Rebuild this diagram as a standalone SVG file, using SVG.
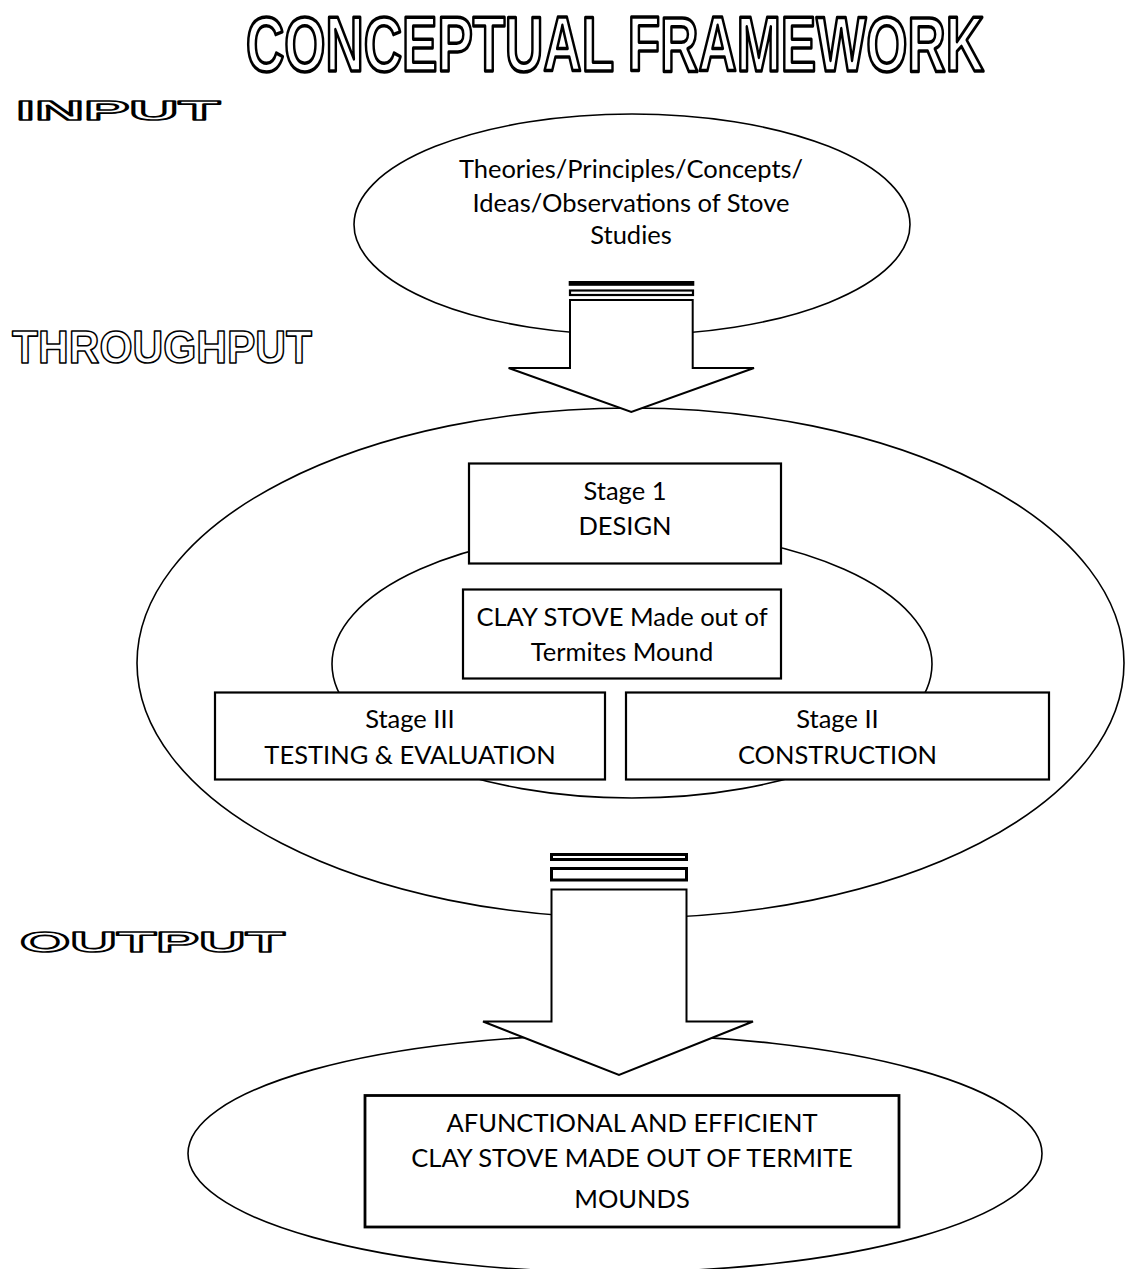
<svg xmlns="http://www.w3.org/2000/svg" width="1125" height="1269" viewBox="0 0 1125 1269">
<style>
.bg{fill:#fff}
.ell{fill:#fff;stroke:#000;stroke-width:1.6}
.box{fill:#fff;stroke:#000;stroke-width:2.2}
.arrow{fill:#fff;stroke:#000;stroke-width:2}
.bar{fill:#fff;stroke:#000;stroke-width:2.6}
.t{font-family:Lato,"Open Sans","Liberation Sans",sans-serif;font-size:25.5px;fill:#000;text-anchor:middle}
.hd{font-family:"Liberation Sans",Arial,sans-serif;font-weight:bold;fill:#fff;stroke:#000;stroke-width:1.6;stroke-linejoin:round}
.title{font-size:50px;stroke-width:3;text-anchor:middle}
</style>
<rect class="bg" x="0" y="0" width="1125" height="1269"/>

<g id="headings">
<text class="hd title" transform="scale(1,1.54)" x="615" y="45.8" textLength="738" lengthAdjust="spacingAndGlyphs" vector-effect="non-scaling-stroke">CONCEPTUAL FRAMEWORK</text>
<text class="hd" x="16" y="120" font-size="27" textLength="204" lengthAdjust="spacingAndGlyphs">INPUT</text>
<text class="hd" x="12" y="362.5" font-size="45.5" textLength="300" lengthAdjust="spacingAndGlyphs">THROUGHPUT</text>
<text class="hd" x="20" y="951.5" font-size="29.3" textLength="265" lengthAdjust="spacingAndGlyphs">OUTPUT</text>
</g>

<g id="input">
<ellipse class="ell" cx="632" cy="224.5" rx="278" ry="110.5"/>
<text class="t" x="631" y="178">Theories/Principles/Concepts/</text>
<text class="t" x="631" y="211.5">Ideas/Observations of Stove</text>
<text class="t" x="631" y="243.5">Studies</text>
</g>

<g id="throughput">
<ellipse class="ell" cx="630.5" cy="663" rx="493.5" ry="255"/>
<ellipse class="ell" cx="632" cy="664" rx="300" ry="134"/>
</g>

<g id="stage1">
<rect class="box" x="469" y="463.5" width="312" height="100"/>
<text class="t" x="625" y="500">Stage 1</text>
<text class="t" x="625" y="535">DESIGN</text>
</g>

<g id="clay-stove">
<rect class="box" x="463" y="589.5" width="318" height="89"/>
<text class="t" x="622" y="626">CLAY STOVE Made out of</text>
<text class="t" x="622" y="661">Termites Mound</text>
</g>

<g id="stage3">
<rect class="box" x="215" y="692.5" width="390" height="87"/>
<text class="t" x="410" y="728">Stage III</text>
<text class="t" x="410" y="764">TESTING &amp; EVALUATION</text>
</g>

<g id="stage2">
<rect class="box" x="626" y="692.5" width="423" height="87"/>
<text class="t" x="837.5" y="728">Stage II</text>
<text class="t" x="837.5" y="764">CONSTRUCTION</text>
</g>

<g id="output">
<ellipse class="ell" cx="615" cy="1153.5" rx="427" ry="118.6"/>
<rect class="box" x="365" y="1095.5" width="534" height="131.5" style="stroke-width:2.8"/>
<text class="t" x="632" y="1131.5">AFUNCTIONAL AND EFFICIENT</text>
<text class="t" x="632" y="1167">CLAY STOVE MADE OUT OF TERMITE</text>
<text class="t" x="632" y="1208">MOUNDS</text>
</g>

<g id="connectors">
<g id="arrow-input-throughput">
<rect class="bar" x="570" y="282.3" width="123" height="2.2"/>
<rect class="bar" x="570" y="290.5" width="123" height="4.5" style="stroke-width:2.2"/>
<path class="arrow" d="M570,300 H692.7 V368 H754 L631.3,412 L508.6,368 H570 Z"/>
</g>
<g id="arrow-throughput-output">
<rect class="bar" x="551.5" y="854.5" width="135" height="5" style="stroke-width:3"/>
<rect class="bar" x="551.5" y="868.5" width="135" height="11.5" style="stroke-width:3"/>
<path class="arrow" d="M551.5,889.5 H686.5 V1021.5 H753 L619,1075 L483,1021.5 H551.5 Z"/>
</g>
</g>
</svg>
